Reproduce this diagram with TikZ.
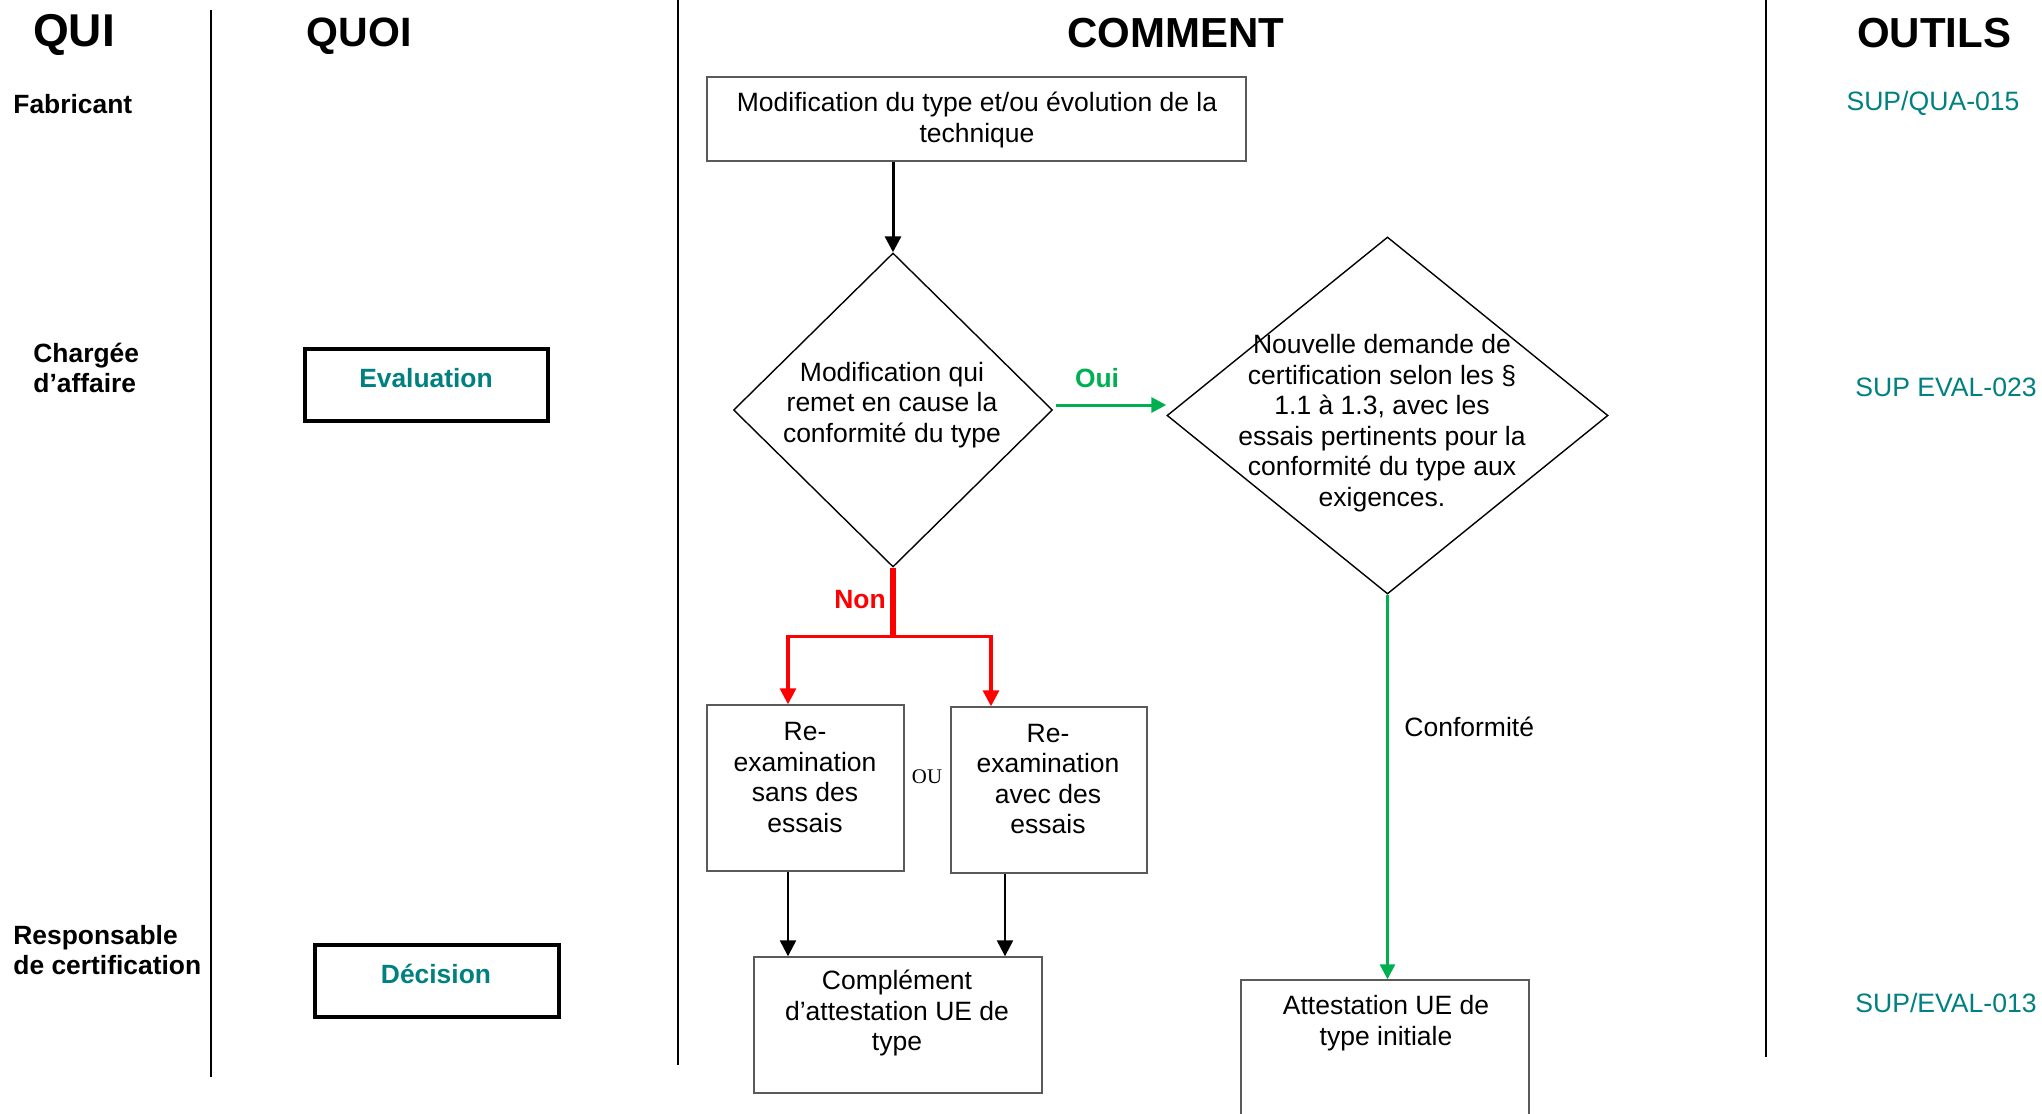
\documentclass[tikz,border=0pt]{standalone}
\usepackage{fontspec}
\setmainfont{Liberation Sans}
\newfontfamily\ouserif{Liberation Serif}
\usetikzlibrary{shapes.geometric,arrows.meta,calc}
\definecolor{tealtxt}{RGB}{0,128,128}
\definecolor{ogreen}{RGB}{0,176,80}
\definecolor{bordergray}{RGB}{90,90,90}
\begin{document}
\begin{tikzpicture}[x=0.5pt,y=-0.5pt,
  lane/.style={line width=1.25pt},
  box/.style={draw=bordergray, line width=0.7pt, rectangle, inner sep=0pt},
  qbox/.style={draw=black, line width=1.8pt, rectangle, inner sep=0pt},
  dia/.style={draw=black, line width=0.7pt, diamond, inner sep=0pt},
  txt/.style={font=\fontsize{13.25pt}{15.25pt}\selectfont, align=center, inner sep=0pt},
  title/.style={font=\fontsize{21pt}{25pt}\selectfont\bfseries, inner sep=0pt},
  who/.style={font=\fontsize{13.2pt}{15pt}\selectfont\bfseries, align=left, inner sep=0pt, anchor=west},
  teallab/.style={font=\fontsize{13.2pt}{15pt}\selectfont\bfseries, text=tealtxt, inner sep=0pt},
  tool/.style={font=\fontsize{13.3pt}{15pt}\selectfont, text=tealtxt, inner sep=0pt},
  blk/.style={draw=black, line width=1.2pt, -{Triangle[width=8pt,length=8pt]}},
  redarr/.style={draw=red, line width=1.6pt, -{Triangle[width=8pt,length=8pt]}},
  grn/.style={draw=ogreen, line width=1.5pt, -{Triangle[width=7.5pt,length=7.5pt]}},
  lbl/.style={font=\fontsize{13.2pt}{15pt}\selectfont\bfseries, inner sep=0pt},
]
\useasboundingbox (0,0) rectangle (2042,1114);

% swimlane separators
\draw[lane] (211,10) -- (211,1077);
\draw[lane] (678,0) -- (678,1065);
\draw[lane] (1766,0) -- (1766,1057);

% headers
\node[title, font=\fontsize{23pt}{27pt}\selectfont\bfseries] (hqui) at (74,35) {QUI};
\node[title, font=\fontsize{20.5pt}{25pt}\selectfont\bfseries] (hquoi) at (359,36) {QUOI};
\node[title] (hcomment) at (1176,33) {COMMENT};
\node[title] (houtils) at (1934,33) {OUTILS};

% who
\node[who] (wfab) at (13,104) {Fabricant};
\node[who] (wcha) at (33,368) {Chargée\\d’affaire};
\node[who] (wres) at (13,950) {Responsable\\de certification};

% what
\node[qbox, minimum width=121.5pt, minimum height=36pt] (eval) at (426.5,385) {};
\node[teallab] (evalt) at (426,378) {Evaluation};
\node[qbox, minimum width=122pt, minimum height=36pt] (dec) at (437,981) {};
\node[teallab] (dect) at (436,974) {Décision};

% tools
\node[tool] (t1) at (1933,103) {SUP/QUA-015};
\node[tool] (t2) at (1946,387) {SUP EVAL-023};
\node[tool] (t3) at (1946,1003) {SUP/EVAL-013};

% how
\node[box, minimum width=269.5pt, minimum height=42pt] (top) at (976.5,119) {};
\node[txt] (topt) at (977,120) {Modification du type et/ou évolution de la\\technique};

\node[dia, minimum width=159.5pt, minimum height=157pt] (d1) at (893,410) {};
\node[txt] (d1t) at (892,405) {Modification qui\\remet en cause la\\conformité du type};

\node[dia, minimum width=220.5pt, minimum height=178.5pt] (d2) at (1387.5,415.5) {};
\node[txt] (d2t) at (1382,423) {Nouvelle demande de\\certification selon les §\\1.1 à 1.3, avec les\\essais pertinents pour la\\conformité du type aux\\exigences.};

\node[box, minimum width=98.5pt, minimum height=83pt] (re1) at (805.5,788) {};
\node[txt] (re1t) at (805,777.5) {Re-\\examination\\sans des\\essais};
\node[box, minimum width=98pt, minimum height=83pt] (re2) at (1049,790) {};
\node[txt] (re2t) at (1048,779) {Re-\\examination\\avec des\\essais};
\node[font=\ouserif\fontsize{10.4pt}{12pt}\selectfont, inner sep=0pt] (ou) at (927,777) {OU};

\node[box, minimum width=144pt, minimum height=68pt] (comp) at (898,1025) {};
\node[txt] (compt) at (897,1013) {Complément\\d’attestation UE de\\type};
\node[box, minimum width=144pt, minimum height=70pt] (att) at (1385,1050) {};
\node[txt] (attt) at (1386,1023) {Attestation UE de\\type initiale};

% connectors
\draw[blk, line width=1.5pt] (top.south -| d1.north) -- (d1.north);
\draw[grn] ($(d1.east)+(3,-5)$) -- ($(d1.east -| d2.west)+(0,-5)$);
\node[lbl, text=ogreen] (oui) at (1097,378) {Oui};

\draw[redarr] ($(d1.south)+(-1.5,0)$) |- ($(re1.north)+(-17.5,-68)$) -- ($(re1.north)+(-17.5,0)$);
\draw[redarr] ($(d1.south)+(1.5,0)$) |- ($(re2.north)+(-58,-70)$) -- ($(re2.north)+(-58,0)$);
\node[lbl, text=red] (non) at (860,600) {Non};

\draw[blk] ($(re1.south)+(-17.5,0)$) -- ($(comp.north)+(-110,0)$);
\draw[blk] ($(re2.south)+(-44,0)$) -- ($(comp.north)+(107,0)$);

\draw[grn] (d2.south) -- (d2.south |- att.north);
\node[txt, anchor=west] (conf) at (1404,727) {Conformité};
\end{tikzpicture}
\end{document}
